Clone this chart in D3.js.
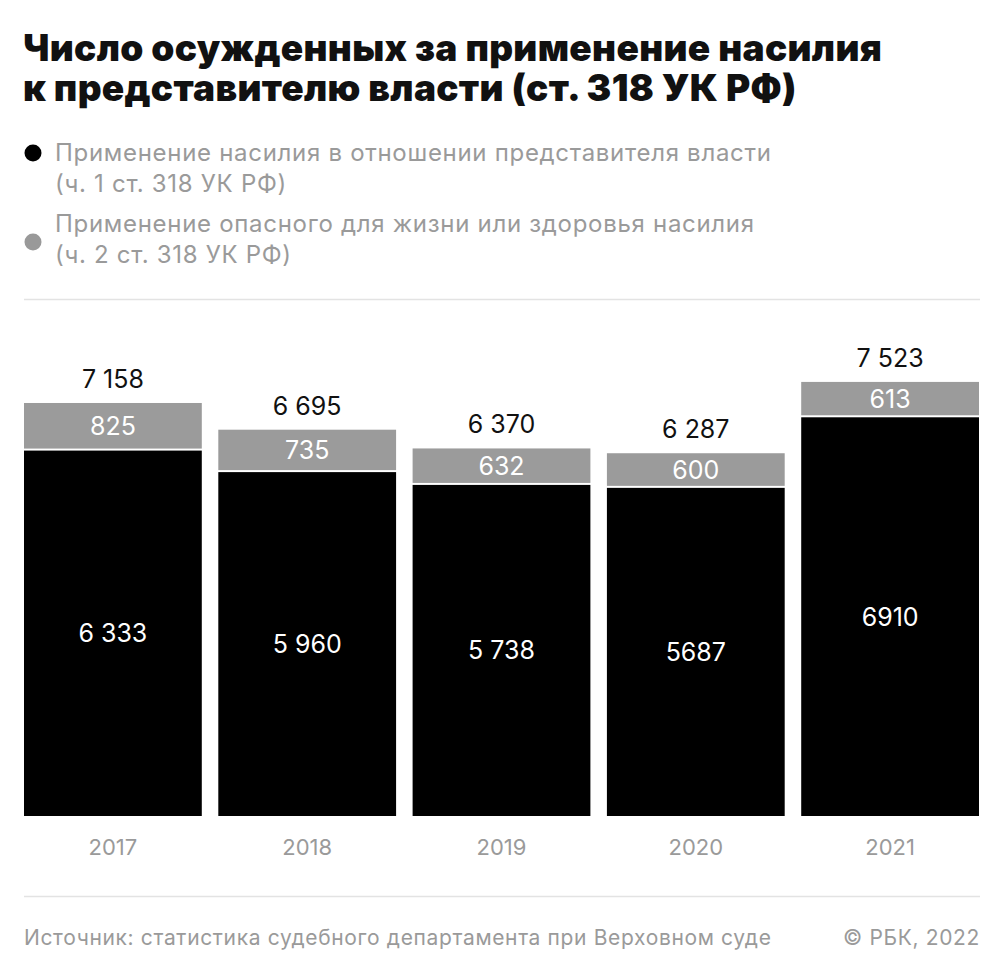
<!DOCTYPE html>
<html>
<head>
<meta charset="utf-8">
<script src="https://cdn.jsdelivr.net/npm/d3@7"></script>
<style>
html,body{margin:0;padding:0;background:#fff;}
svg{display:block;font-family:Inter,"Noto Sans",sans-serif;}
</style>
</head>
<body>
<svg id="chart" width="1005" height="977"></svg>
<script>
const years = ["2017","2018","2019","2020","2021"];
const part1 = [6333, 5960, 5738, 5687, 6910];
const part2 = [825, 735, 632, 600, 613];
const totals = [7158, 6695, 6370, 6287, 7523];
const part1Labels = ["6 333","5 960","5 738","5687","6910"];
const part2Labels = ["825","735","632","600","613"];
const totalLabels = ["7 158","6 695","6 370","6 287","7 523"];
const titleLines = ["Число осужденных за применение насилия","к представителю власти (ст. 318 УК РФ)"];
const legendItems = [
  {color:"#000", lines:["Применение насилия в отношении представителя власти","(ч. 1 ст. 318 УК РФ)"]},
  {color:"#999", lines:["Применение опасного для жизни или здоровья насилия","(ч. 2 ст. 318 УК РФ)"]}
];
const sourceText = "Источник: статистика судебного департамента при Верховном суде";
const creditText = "© РБК, 2022";

const svg = d3.select("#chart");

// title
svg.append("g").selectAll("text").data(titleLines).join("text")
  .attr("x", 23).attr("y", (d,i)=>61 + i*40)
  .attr("font-size", 37).attr("font-weight", 900).attr("letter-spacing", 0.3).attr("fill", "#111")
  .text(d=>d);

// legend
const lg = svg.append("g");
const legendY = [161, 232];
legendItems.forEach((it, i) => {
  const g = lg.append("g");
  g.append("circle").attr("cx", 33).attr("cy", legendY[i] + (i===0 ? -8 : 10)).attr("r", 8.5).attr("fill", it.color);
  g.selectAll("text").data(it.lines).join("text")
    .attr("x", 55).attr("y", (d,j)=>legendY[i] + j*31)
    .attr("font-size", 24).attr("letter-spacing", 0.7).attr("fill", "#9a9a9a").text(d=>d);
});

// dividers
svg.append("line").attr("x1",24).attr("x2",980).attr("y1",299.5).attr("y2",299.5).attr("stroke","#e3e3e3").attr("stroke-width",1.5);
svg.append("line").attr("x1",24).attr("x2",980).attr("y1",896.5).attr("y2",896.5).attr("stroke","#e3e3e3").attr("stroke-width",1.5);

// scales
const x = d3.scaleBand().domain(years).range([24, 979]).paddingInner(0.085).paddingOuter(0);
const y = d3.scaleLinear().domain([0, 8000]).range([816, 816 - 461.6]);

const data = years.map((yr,i)=>({yr, a:part1[i], b:part2[i], t:totals[i], la:part1Labels[i], lb:part2Labels[i], lt:totalLabels[i]}));
const bars = svg.append("g").selectAll("g").data(data).join("g");

bars.append("rect").attr("x", d=>x(d.yr)).attr("width", x.bandwidth())
  .attr("y", d=>y(d.a)).attr("height", d=>y(0)-y(d.a)).attr("fill", "#000");
bars.append("rect").attr("x", d=>x(d.yr)).attr("width", x.bandwidth())
  .attr("y", d=>y(d.a + d.b)).attr("height", d=>y(d.a)-y(d.a+d.b)-2).attr("fill", "#9b9b9b");

const cx = d => x(d.yr) + x.bandwidth()/2;
bars.append("text").attr("x", cx).attr("y", d=>(y(d.a)+y(0))/2).attr("dy","0.36em")
  .attr("text-anchor","middle").attr("font-size",25).attr("fill","#fff").text(d=>d.la);
bars.append("text").attr("x", cx).attr("y", d=>(y(d.a+d.b)+y(d.a)-2)/2).attr("dy","0.36em")
  .attr("text-anchor","middle").attr("font-size",25).attr("fill","#fff").text(d=>d.lb);
bars.append("text").attr("x", cx).attr("y", d=>y(d.t)-15)
  .attr("text-anchor","middle").attr("font-size",25).attr("fill","#111").text(d=>d.lt);

// x axis labels
const xAxis = d3.axisBottom(x).tickSize(0).tickPadding(0);
const ax = svg.append("g").attr("transform","translate(0,855)").call(xAxis);
ax.select(".domain").remove();
ax.selectAll("text").attr("font-size",22).attr("fill","#9a9a9a").attr("dy",0).attr("font-family","Inter,sans-serif");

// footer
svg.append("text").attr("x",24).attr("y",945).attr("font-size",21).attr("letter-spacing",0.65).attr("fill","#9a9a9a").text(sourceText);
svg.append("text").attr("x",980).attr("y",945).attr("text-anchor","end").attr("font-size",21).attr("letter-spacing",0.65).attr("fill","#9a9a9a").text(creditText);
</script>
</body>
</html>
